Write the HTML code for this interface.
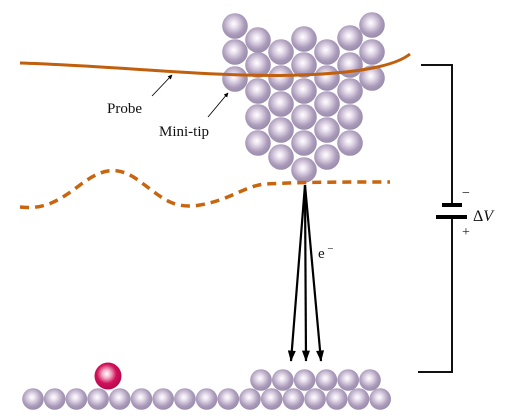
<!DOCTYPE html>
<html><head><meta charset="utf-8"><style>
html,body{margin:0;padding:0;background:#fff;}
svg{display:block;}
text{font-family:"Liberation Serif",serif;fill:#111;}
</style></head><body>
<svg width="520" height="420" viewBox="0 0 520 420">
<defs>
<radialGradient id="atom" cx="0.45" cy="0.42" r="0.6">
<stop offset="0" stop-color="#ffffff"/><stop offset="0.25" stop-color="#e8dfec"/><stop offset="0.7" stop-color="#ab9bbb"/><stop offset="1" stop-color="#978aa8"/>
</radialGradient>
<radialGradient id="red" cx="0.45" cy="0.42" r="0.6">
<stop offset="0" stop-color="#ffffff"/><stop offset="0.25" stop-color="#f3b3c9"/><stop offset="0.6" stop-color="#d0105a"/><stop offset="1" stop-color="#b5084b"/>
</radialGradient>
<marker id="ah" viewBox="0 0 10 10" refX="9" refY="5" markerWidth="5" markerHeight="5" orient="auto"><path d="M0,0 L10,5 L0,10 z" fill="#000"/></marker>
<marker id="big" viewBox="0 0 14 10" refX="13" refY="5" markerWidth="12" markerHeight="8" markerUnits="userSpaceOnUse" orient="auto"><path d="M0,0 L14,5 L0,10 z" fill="#000"/></marker>
</defs>

<g id="tip"></g>
<g id="surf"></g>

<path d="M20,63 C120,66 220,78 300,75 C360,73 395,66 410,54" fill="none" stroke="#c0600e" stroke-width="3"/>
<path d="M20,207 C45,210 60,200 80,185 C100,170 115,165 135,178 C160,195 170,210 200,205 C230,200 245,186 265,184 C300,182 350,182 390,182" fill="none" stroke="#c8650f" stroke-width="3.5" stroke-dasharray="9,6"/>

<g stroke="#000" stroke-width="2.2">
<line x1="305" y1="185" x2="291" y2="361" marker-end="url(#big)"/>
<line x1="305" y1="185" x2="306" y2="361" marker-end="url(#big)"/>
<line x1="305" y1="185" x2="321" y2="361" marker-end="url(#big)"/>
</g>
<text x="318" y="258" font-size="15">e<tspan font-size="11" dy="-6"> −</tspan></text>

<g fill="none" stroke="#111" stroke-width="2">
<polyline points="421,65 452,65 452,205"/>
<polyline points="452,217 452,372 418,372"/>
</g>
<rect x="442" y="203" width="20" height="4" fill="#000"/>
<rect x="436" y="215" width="31" height="4" fill="#000"/>
<text x="462" y="197" font-size="14">−</text>
<text x="473" y="221" font-size="16" font-style="italic"><tspan font-style="normal">Δ</tspan>V</text>
<text x="462" y="236" font-size="14">+</text>

<text x="107" y="113" font-size="15">Probe</text>
<line x1="152" y1="96" x2="172" y2="75" stroke="#000" stroke-width="0.9" marker-end="url(#ah)"/>
<text x="159" y="136" font-size="15">Mini-tip</text>
<line x1="208" y1="117" x2="228" y2="93" stroke="#000" stroke-width="0.9" marker-end="url(#ah)"/>
</svg>
<script>
var NS="http://www.w3.org/2000/svg";
var tipAtoms=[[235,26],[372,25],[258,40],[304,39],[350,38],[235,52],[281,52],[327,52],[372,52],[258,65],[304,65],[350,65],[235,79],[281,78],[327,78],[372,78],[258,91],[304,91],[350,91],[281,104],[327,104],[258,117],[304,117],[350,117],[281,130],[327,130],[258,143],[304,143],[350,143],[281,157],[327,157],[304,170]];
var tip=document.getElementById('tip');
tipAtoms.forEach(function(p){
var c=document.createElementNS(NS,'circle');
c.setAttribute('cx',p[0]);c.setAttribute('cy',p[1]);c.setAttribute('r',12.8);c.setAttribute('fill','url(#atom)');


tip.appendChild(c);
});
var surf=document.getElementById('surf');
function add(x,y,r,f,name){
var c=document.createElementNS(NS,'circle');
c.setAttribute('cx',x);c.setAttribute('cy',y);c.setAttribute('r',r);c.setAttribute('fill',f);


surf.appendChild(c);
}
for(var i=0;i<17;i++) add(33+i*21.7,399,10.8,'url(#atom)','substrate-atom');
for(var j=0;j<6;j++) add(261+j*21.8,380,10.8,'url(#atom)','step-atom');
add(108,376,13.5,'url(#red)','adatom');
</script>
</body></html>
